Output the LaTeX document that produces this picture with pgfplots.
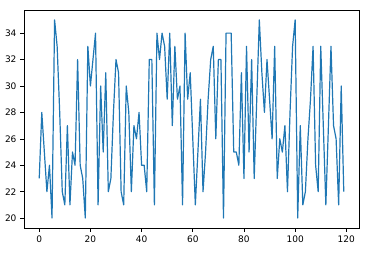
\documentclass[border=0pt]{standalone}
\usepackage{pgfplots}
\pgfplotsset{compat=1.18}
\usepackage{fontspec}
\setmainfont{DejaVu Sans}
\definecolor{mplblue}{HTML}{1F77B4}
\begin{document}
\begin{tikzpicture}[x=1pt,y=1pt]
\useasboundingbox (0,0) rectangle (372,252);
\begin{axis}[
  at={(24pt,24pt)}, anchor=south west,
  scale only axis, width=335pt, height=218pt,
  xmin=-5.95, xmax=124.95, ymin=19.25, ymax=35.75,
  xtick={0,20,...,120}, ytick={20,22,...,34},
  xtick pos=bottom, ytick pos=left,
  tick align=outside, major tick length=3.5pt,
  tick style={black, line width=0.6pt},
  axis line style={black, line width=0.6pt},
  every tick label/.append style={font=\fontsize{9}{11}\selectfont},
  /pgf/number format/assume math mode=true,
  xticklabel style={yshift=-0.5pt},
  yticklabel style={xshift=-0.5pt},
  clip=true,
]
\addplot[mplblue, line width=1.2pt, line join=round] table[x=i, y=v] {
i v
0 23
1 28
2 25
3 22
4 24
5 20
6 35
7 33
8 28
9 22
10 21
11 27
12 21
13 25
14 24
15 32
16 24
17 23
18 20
19 33
20 30
21 32
22 34
23 21
24 30
25 25
26 31
27 22
28 23
29 28
30 32
31 31
32 22
33 21
34 30
35 28
36 22
37 27
38 26
39 28
40 24
41 24
42 22
43 32
44 32
45 21
46 34
47 32
48 34
49 33
50 29
51 34
52 27
53 33
54 29
55 30
56 21
57 34
58 29
59 31
60 26
61 21
62 25
63 29
64 22
65 25
66 29
67 32
68 33
69 26
70 32
71 32
72 20
73 34
74 34
75 34
76 25
77 25
78 24
79 31
80 23
81 33
82 25
83 32
84 23
85 29
86 35
87 31
88 28
89 32
90 29
91 26
92 33
93 23
94 26
95 25
96 27
97 22
98 28
99 33
100 35
101 20
102 27
103 21
104 22
105 26
106 29
107 33
108 24
109 22
110 33
111 27
112 21
113 27
114 33
115 27
116 26
117 21
118 30
119 22
};
\end{axis}
\end{tikzpicture}
\end{document}
